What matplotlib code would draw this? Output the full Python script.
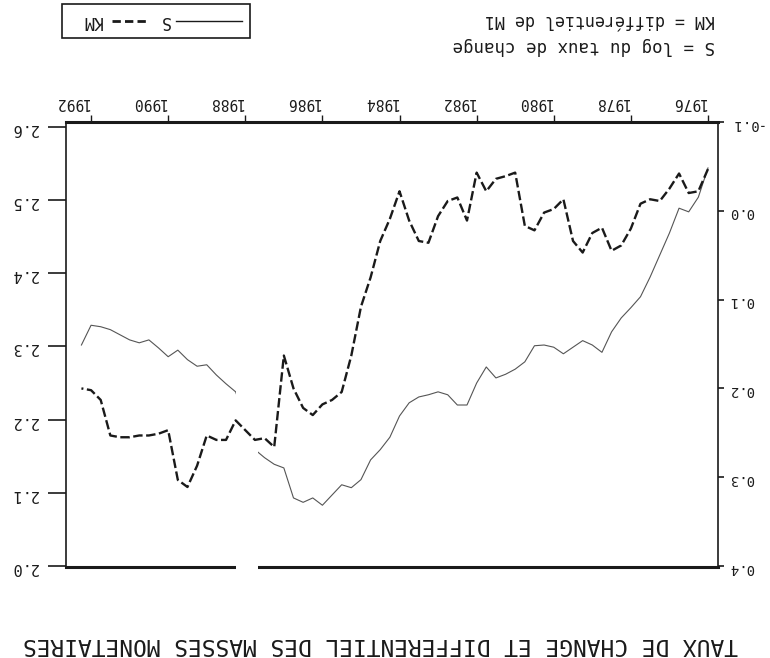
import numpy as np
import matplotlib.pyplot as plt
from matplotlib.lines import Line2D
from matplotlib.patches import Rectangle

# the scanned page is upside down, so everything is drawn turned by 180 degrees

quarters = 1976 + np.arange(66) / 4.0

# S = log du taux de change (thin line, axis 2.0 - 2.6)
s_log = [2.544, 2.504, 2.484, 2.489, 2.455, 2.425, 2.395, 2.368, 2.353, 2.339,
         2.320, 2.292, 2.302, 2.308, 2.299, 2.290, 2.299, 2.302, 2.301, 2.279,
         2.269, 2.262, 2.257, 2.272, 2.250, 2.220, 2.220, 2.234, 2.238, 2.234,
         2.231, 2.223, 2.205, 2.176, 2.159, 2.145, 2.118, 2.107, 2.111, 2.097,
         2.083, 2.093, 2.087, 2.093, 2.134, 2.139, 2.148, 2.159, 2.200, 2.238,
         2.249, 2.261, 2.275, 2.273, 2.282, 2.295, 2.286, 2.298, 2.309, 2.305,
         2.309, 2.316, 2.323, 2.327, 2.329, 2.302]

# KM = differentiel de M1 (heavy dashed line, axis -0.1 - 0.4)
km_diff = [-0.047, -0.022, -0.020, -0.042, -0.025, -0.011, -0.013, -0.008, 0.020, 0.039,
           0.045, 0.019, 0.025, 0.047, 0.034, -0.013, -0.002, 0.002, 0.022, 0.017,
           -0.043, -0.039, -0.036, -0.022, -0.043, 0.011, -0.015, -0.011, 0.006, 0.036,
           0.034, 0.011, -0.022, 0.009, 0.034, 0.075, 0.108, 0.163, 0.204, 0.213,
           0.218, 0.230, 0.222, 0.200, 0.163, 0.266, 0.256, 0.258, 0.247, 0.236,
           0.258, 0.258, 0.253, 0.287, 0.311, 0.303, 0.247, 0.251, 0.253, 0.253,
           0.255, 0.255, 0.253, 0.213, 0.202, 0.200]

tick_years = list(range(1976, 1993, 2))
year_labels = [str(y) for y in tick_years]
s_ticks = [2.0, 2.1, 2.2, 2.3, 2.4, 2.5, 2.6]
km_ticks = [-0.1, 0.0, 0.1, 0.2, 0.3, 0.4]

title = "TAUX DE CHANGE ET DIFFERENTIEL DES MASSES MONETAIRES"
note_km = "KM = différentiel de M1"
note_s = "S = log du taux de change"

mono = "DejaVu Sans Mono"
ink = "#1a1a1a"
W, H = 770, 658


def fx(px):
    return px / W


def fy(py):
    return 1 - py / H


fig = plt.figure(figsize=(7.7, 6.58), dpi=100)
ax = fig.add_axes([fx(66), fy(567), fx(718) - fx(66), fy(122) - fy(567)])
ax2 = ax.twinx()

ax.plot(quarters, s_log, color="#555555", lw=0.8)
ax2.plot(quarters, km_diff, color=ink, lw=1.7, dashes=(4, 1.5))

ax.set_xlim(1992.65, 1975.74)
ax.set_ylim(1.9986, 2.6068)
ax2.set_ylim(0.4011, -0.0989)

# x axis (upside down: sits on top)
ax.set_xticks(tick_years)
ax.set_xticklabels([])
ax.set_xticks([y + 0.5 for y in tick_years], minor=True)
ax.set_xticklabels(year_labels, minor=True, family=mono, fontsize=10.5, rotation=180, color=ink)
ax.tick_params(axis="x", which="both", top=True, bottom=False, labeltop=True, labelbottom=False)
ax.tick_params(axis="x", which="major", direction="out", length=5, width=1, color=ink)
ax.tick_params(axis="x", which="minor", length=0, pad=9)

ax.set_yticks(s_ticks)
ax.set_yticklabels(["%.1f" % v for v in s_ticks], family=mono, fontsize=11, rotation=180, color=ink)
ax.tick_params(axis="y", direction="out", length=13, width=1.2, pad=7, color=ink)

ax2.set_yticks(km_ticks)
ax2.set_yticklabels(["%.1f" % v for v in km_ticks], family=mono, fontsize=10, rotation=180, color=ink)
ax2.tick_params(axis="y", direction="out", length=4, width=1.2, pad=4, color=ink)

for side in ["top", "bottom", "left", "right"]:
    ax2.spines[side].set_visible(False)
for side in ["top", "bottom"]:
    ax.spines[side].set_linewidth(2.2)
for side in ["left", "right"]:
    ax.spines[side].set_linewidth(1.2)
    ax.spines[side].set_linestyle((0, (2, 1)))
for sp in ax.spines.values():
    sp.set_color(ink)

# blank strip left by the scan
ax.axvspan(1987.67, 1988.24, ymin=-0.02, ymax=0.42, color="white", zorder=6, clip_on=False, lw=0)

# legend box drawn by hand
fig.patches.append(Rectangle((fx(62), fy(38)), fx(250) - fx(62), fy(4) - fy(38),
                             transform=fig.transFigure, fill=False, ec=ink, lw=1.2))
fig.text(fx(92), fy(21), "KM", family=mono, fontsize=12, rotation=180, ha="center", va="center", color=ink)
fig.add_artist(Line2D([fx(112), fx(147)], [fy(21), fy(21)], transform=fig.transFigure,
                      color=ink, lw=2, dashes=(3, 1.5)))
fig.text(fx(165), fy(21), "S", family=mono, fontsize=12, rotation=180, ha="center", va="center", color=ink)
fig.add_artist(Line2D([fx(176), fx(242)], [fy(21), fy(21)], transform=fig.transFigure,
                      color=ink, lw=1))

fig.text(fx(715), fy(20), note_km, family=mono, fontsize=12, rotation=180, ha="right", va="center", color=ink)
fig.text(fx(715), fy(46), note_s, family=mono, fontsize=12.5, rotation=180, ha="right", va="center", color=ink)

fig.text(fx(380), fy(645), title, family=mono, fontsize=16.5, rotation=180, ha="center", va="center", color=ink)

fig.savefig("out.png", dpi=100)
